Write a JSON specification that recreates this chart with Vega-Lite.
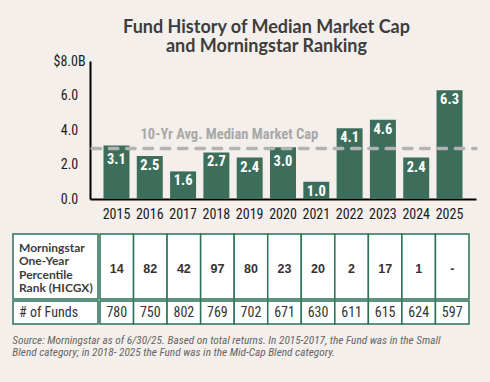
{
  "$schema": "https://vega.github.io/schema/vega-lite/v6.json",
  "background": "#f4efeb",
  "padding": {"left": 12, "top": 18, "right": 13, "bottom": 31},
  "config": {
    "view": {"stroke": null},
    "font": "Lato",
    "axis": {"labelOverlap": false}
  },
  "datasets": {
    "funds": [
      {"year": "2015", "cap": 3.1, "rank": "14", "funds": 780},
      {"year": "2016", "cap": 2.5, "rank": "82", "funds": 750},
      {"year": "2017", "cap": 1.6, "rank": "42", "funds": 802},
      {"year": "2018", "cap": 2.7, "rank": "97", "funds": 769},
      {"year": "2019", "cap": 2.4, "rank": "80", "funds": 702},
      {"year": "2020", "cap": 3.0, "rank": "23", "funds": 671},
      {"year": "2021", "cap": 1.0, "rank": "20", "funds": 630},
      {"year": "2022", "cap": 4.1, "rank": "2", "funds": 611},
      {"year": "2023", "cap": 4.6, "rank": "17", "funds": 615},
      {"year": "2024", "cap": 2.4, "rank": "1", "funds": 624},
      {"year": "2025", "cap": 6.3, "rank": "-", "funds": 597}
    ]
  },
  "title": {
    "text": ["Source: Morningstar as of 6/30/25. Based on total returns. In 2015-2017, the Fund was in the Small", "Blend category; in 2018- 2025 the Fund was in the Mid-Cap Blend category."],
    "orient": "bottom",
    "anchor": "start",
    "font": "Roboto Condensed",
    "fontStyle": "italic",
    "fontWeight": "normal",
    "fontSize": 11.3,
    "lineHeight": 12,
    "color": "#666666",
    "offset": 10.5
  },
  "spacing": 12,
  "vconcat": [
    {
      "width": 463,
      "height": 138,
      "title": {
        "text": ["Fund History of Median Market Cap", "and Morningstar Ranking"],
        "font": "Lato",
        "fontSize": 18,
        "fontWeight": "bold",
        "color": "#3d3d3d",
        "lineHeight": 19.5,
        "anchor": "middle",
        "frame": "group",
        "dx": 22,
        "offset": -2
      },
      "resolve": {"scale": {"x": "independent"}},
      "layer": [
        {
          "data": {"name": "funds"},
          "layer": [
            {
              "mark": {"type": "bar", "color": "#3d6e5c"},
              "encoding": {
                "x": {
                  "field": "year", "type": "nominal",
                  "scale": {"range": [77, 463], "paddingInner": 0.22, "paddingOuter": 0.405},
                  "axis": {
                    "title": null, "labelAngle": 0, "ticks": false, "tickSize": 0,
                    "domainColor": "#000000", "domainWidth": 2,
                    "labelFont": "Roboto Condensed", "labelFontSize": 14,
                    "labelColor": "#1a1a1a", "labelPadding": 8
                  }
                },
                "y": {
                  "field": "cap", "type": "quantitative",
                  "scale": {"domain": [0, 8]},
                  "axis": {
                    "title": null, "tickCount": 4,
                    "labelExpr": "datum.value == 8 ? '$8.0B' : format(datum.value, '.1f')",
                    "ticks": false, "tickSize": 0, "grid": false,
                    "domainColor": "#000000", "domainWidth": 2, "offset": -77,
                    "labelAlign": "center", "labelPadding": 21, "labelFlush": false,
                    "labelOverlap": false, "labelSeparation": 0,
                    "labelFont": "Roboto Condensed", "labelFontSize": 14,
                    "labelColor": "#1a1a1a"
                  }
                }
              }
            },
            {
              "transform": [{"filter": "datum.year != '2015' && datum.year != '2020'"}],
              "mark": {"type": "text", "color": "#ffffff", "font": "Roboto Condensed", "fontWeight": "bold", "fontSize": 14.5, "baseline": "middle", "dy": 10},
              "encoding": {
                "x": {"field": "year", "type": "nominal"},
                "y": {"field": "cap", "type": "quantitative"},
                "text": {"field": "cap", "type": "quantitative", "format": ".1f"}
              }
            },
            {
              "transform": [{"filter": "datum.year == '2015' || datum.year == '2020'"}],
              "mark": {"type": "text", "color": "#ffffff", "font": "Roboto Condensed", "fontWeight": "bold", "fontSize": 14.5, "baseline": "middle", "dy": 14.5},
              "encoding": {
                "x": {"field": "year", "type": "nominal"},
                "y": {"field": "cap", "type": "quantitative"},
                "text": {"field": "cap", "type": "quantitative", "format": ".1f"}
              }
            },
            {
              "data": {"values": [{"avg": 2.93, "label": "10-Yr Avg. Median Market Cap"}]},
              "mark": {"type": "text", "color": "#a8a8a8", "font": "Roboto Condensed", "fontWeight": "bold", "fontSize": 14.5, "baseline": "alphabetic", "dy": -9.5},
              "encoding": {
                "x": {"datum": "2018", "type": "nominal", "bandPosition": 1},
                "y": {"field": "avg", "type": "quantitative"},
                "text": {"field": "label", "type": "nominal"}
              }
            }
          ]
        },
        {
          "data": {"values": [{"avg": 2.93, "from": 0, "to": 1}]},
          "mark": {"type": "rule", "color": "#b3b3b3", "strokeWidth": 3.4, "strokeDash": [8.6, 8.7], "strokeCap": "round"},
          "encoding": {
            "x": {"field": "from", "type": "quantitative", "scale": {"domain": [0, 1], "range": [79, 463]}, "axis": null},
            "x2": {"field": "to"},
            "y": {"field": "avg", "type": "quantitative"}
          }
        }
      ]
    },
    {
      "spacing": 0,
      "vconcat": [
        {
          "spacing": 0,
          "hconcat": [
            {
              "width": 85, "height": 65,
              "data": {"values": [{"label": "Morningstar|One-Year|Percentile|Rank (HICGX)"}]},
              "layer": [
                {
                  "mark": {"type": "rect", "fill": "#ffffff", "stroke": "#2b7357", "strokeWidth": 1.5},
                  "encoding": {"x": {"field": "label", "type": "nominal", "scale": {"paddingInner": 0, "paddingOuter": 0}, "axis": null}}
                },
                {
                  "mark": {"type": "text", "align": "left", "baseline": "middle", "lineBreak": "|", "font": "Lato", "fontWeight": "bold", "fontSize": 12, "lineHeight": 13.5, "color": "#3d3d3d", "dx": 6, "dy": -18.8},
                  "encoding": {
                    "x": {"field": "label", "type": "nominal", "bandPosition": 0},
                    "text": {"field": "label", "type": "nominal"}
                  }
                }
              ]
            },
            {
              "width": 369, "height": 65,
              "data": {"name": "funds"},
              "layer": [
                {
                  "mark": {"type": "rect", "fill": "#ffffff", "stroke": "#2b7357", "strokeWidth": 1.5},
                  "encoding": {"x": {"field": "year", "type": "nominal", "scale": {"paddingInner": 0, "paddingOuter": 0}, "axis": null}}
                },
                {
                  "mark": {"type": "text", "baseline": "middle", "font": "Liberation Sans", "fontWeight": "bold", "fontSize": 12.5, "color": "#333333", "dy": 2.5},
                  "encoding": {
                    "x": {"field": "year", "type": "nominal"},
                    "text": {"field": "rank", "type": "nominal"}
                  }
                }
              ]
            }
          ]
        },
        {
          "spacing": 0,
          "hconcat": [
            {
              "width": 85, "height": 23,
              "data": {"values": [{"label": "# of Funds"}]},
              "layer": [
                {
                  "mark": {"type": "rect", "fill": "#ffffff", "stroke": "#2b7357", "strokeWidth": 1.5},
                  "encoding": {"x": {"field": "label", "type": "nominal", "scale": {"paddingInner": 0, "paddingOuter": 0}, "axis": null}}
                },
                {
                  "mark": {"type": "text", "align": "left", "baseline": "middle", "font": "Roboto Condensed", "fontSize": 14, "color": "#333333", "dx": 6, "dy": 0.5},
                  "encoding": {
                    "x": {"field": "label", "type": "nominal", "bandPosition": 0},
                    "text": {"field": "label", "type": "nominal"}
                  }
                }
              ]
            },
            {
              "width": 369, "height": 23,
              "data": {"name": "funds"},
              "layer": [
                {
                  "mark": {"type": "rect", "fill": "#ffffff", "stroke": "#2b7357", "strokeWidth": 1.5},
                  "encoding": {"x": {"field": "year", "type": "nominal", "scale": {"paddingInner": 0, "paddingOuter": 0}, "axis": null}}
                },
                {
                  "mark": {"type": "text", "baseline": "middle", "font": "Roboto Condensed", "fontSize": 14, "color": "#333333", "dy": 0.5},
                  "encoding": {
                    "x": {"field": "year", "type": "nominal"},
                    "text": {"field": "funds", "type": "quantitative"}
                  }
                }
              ]
            }
          ]
        }
      ]
    }
  ]
}
